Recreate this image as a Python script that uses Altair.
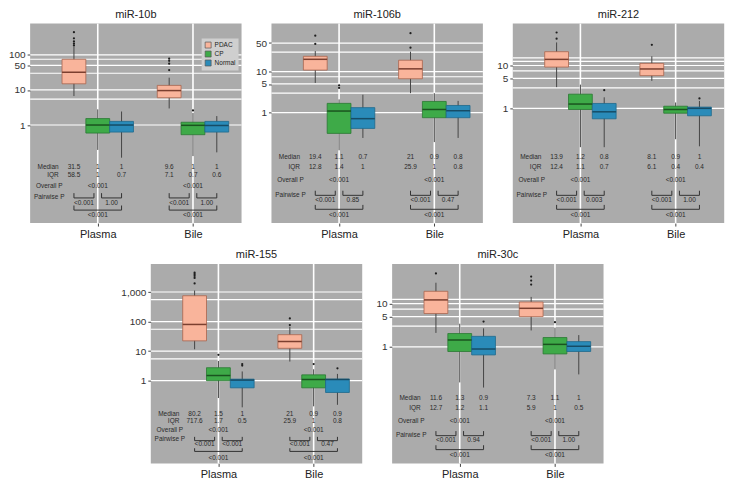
import altair as alt
import pandas as pd

GROUPS = ["PDAC", "CP", "Normal"]
SITES = ["Plasma", "Bile"]
FILL = ["#F9B49B", "#3EAA48", "#2A8BB9"]
EDGE = ["#A9644E", "#2A7832", "#1F6A8D"]
MEDC = ["#7B3F2F", "#1A531F", "#164C66"]
# box order: Plasma-PDAC, Plasma-CP, Plasma-Normal, Bile-PDAC, Bile-CP, Bile-Normal

# ---------------- miR-10b ----------------
m10b_lo = [6.7, 0.195, 0.117, 2.97, 0.13, 0.166]
m10b_q1 = [15.0, 0.59, 0.63, 6.0, 0.53, 0.63]
m10b_med = [32.0, 1.0, 1.0, 9.6, 0.98, 0.97]
m10b_q3 = [75.0, 1.53, 1.27, 13.5, 1.2, 1.27]
m10b_hi = [172.0, 2.8, 2.43, 22.4, 2.2, 1.8]
m10b_out = [[186, 210, 242, 298, 445], [], [], [37, 56, 68, 78], [2.6], []]
m10b_median_txt = ["31.5", "1", "1", "9.6", "1", "1"]
m10b_iqr_txt = ["58.5", "1", "0.7", "7.1", "0.7", "0.6"]
m10b_overall = ["<0.001", "<0.001"]
m10b_p_pdac_cp = ["<0.001", "<0.001"]
m10b_p_cp_normal = ["1.00", "1.00"]
m10b_p_pdac_normal = ["<0.001", "<0.001"]
m10b_ticks = [1, 10, 50, 100]
m10b_grid = [1, 5.5, 10, 30, 50, 75, 100]

# ---------------- miR-106b ----------------
m106b_lo = [5.3, 0.12, 0.24, 2.98, 0.19, 0.24]
m106b_q1 = [10.9, 0.31, 0.41, 6.7, 0.75, 0.75]
m106b_med = [20.0, 1.09, 0.71, 11.7, 1.19, 1.11]
m106b_q3 = [23.7, 1.68, 1.32, 19.0, 1.87, 1.49]
m106b_hi = [31.8, 2.1, 2.73, 30.7, 2.98, 1.93]
m106b_out = [[47.5, 75.7], [4.0, 4.6], [], [38.6, 87.0], [], []]
m106b_median_txt = ["19.4", "1.1", "0.7", "21", "0.9", "0.8"]
m106b_iqr_txt = ["12.8", "1.4", "1", "25.9", "1", "0.8"]
m106b_overall = ["<0.001", "<0.001"]
m106b_p_pdac_cp = ["<0.001", "<0.001"]
m106b_p_cp_normal = ["0.85", "0.47"]
m106b_p_pdac_normal = ["<0.001", "<0.001"]
m106b_ticks = [1, 5, 10, 50]
m106b_grid = [1, 3, 5, 7.5, 10, 30, 50]

# ---------------- miR-212 ----------------
m212_lo = [3.13, 0.124, 0.124, 4.37, 0.19, 0.13]
m212_q1 = [9.2, 0.94, 0.57, 5.8, 0.77, 0.67]
m212_med = [13.9, 1.26, 0.83, 8.3, 0.94, 1.0]
m212_q3 = [21.0, 2.14, 1.3, 11.2, 1.12, 1.07]
m212_hi = [34.6, 3.58, 1.81, 16.4, 1.37, 1.49]
m212_out = [[42.3, 58.9], [], [2.66], [30.4], [], [1.7]]
m212_median_txt = ["13.9", "1.2", "0.8", "8.1", "0.9", "1"]
m212_iqr_txt = ["12.4", "1.1", "0.7", "6.1", "0.4", "0.4"]
m212_overall = ["<0.001", "<0.001"]
m212_p_pdac_cp = ["<0.001", "<0.001"]
m212_p_cp_normal = ["0.003", "1.00"]
m212_p_pdac_normal = ["<0.001", "<0.001"]
m212_ticks = [1, 5, 10]
m212_grid = [1, 3, 5, 7.5, 10, 12.5, 15]

# ---------------- miR-155 ----------------
m155_lo = [11.6, 0.26, 0.126, 4.45, 0.136, 0.153]
m155_q1 = [22.3, 1.0, 0.575, 12.5, 0.575, 0.4]
m155_med = [80.0, 1.5, 1.05, 21.2, 1.1, 1.1]
m155_q3 = [748.0, 2.75, 1.13, 36.0, 1.58, 1.13]
m155_hi = [1120.0, 4.66, 2.06, 66.0, 2.44, 1.7]
m155_out = [[1950, 3000, 3500, 4000, 4500], [7.5], [3.25, 3.66], [76, 128], [3.66], [2.62]]
m155_median_txt = ["80.2", "1.5", "1", "21", "0.9", "0.9"]
m155_iqr_txt = ["717.6", "1.7", "0.5", "25.9", "1", "0.8"]
m155_overall = ["<0.001", "<0.001"]
m155_p_pdac_cp = ["<0.001", "<0.001"]
m155_p_cp_normal = ["<0.001", "0.47"]
m155_p_pdac_normal = ["<0.001", "<0.001"]
m155_ticks = [1, 10, 100, 1000]
m155_grid = [1, 5.5, 10, 55, 100, 550, 1000]

# ---------------- miR-30c ----------------
m30c_lo = [2.1, 0.15, 0.114, 2.39, 0.3, 0.23]
m30c_q1 = [5.9, 0.78, 0.65, 5.0, 0.685, 0.78]
m30c_med = [12.2, 1.44, 0.89, 7.8, 1.14, 1.03]
m30c_q3 = [19.3, 2.03, 1.75, 10.9, 1.64, 1.32]
m30c_hi = [30.5, 3.43, 2.68, 14.3, 2.77, 1.87]
m30c_out = [[50.0], [], [3.85], [27.7, 34.3, 42.4], [3.73], []]
m30c_median_txt = ["11.6", "1.3", "0.9", "7.3", "1.1", "1"]
m30c_iqr_txt = ["12.7", "1.2", "1.1", "5.9", "1", "0.5"]
m30c_overall = ["<0.001", "<0.001"]
m30c_p_pdac_cp = ["<0.001", "<0.001"]
m30c_p_cp_normal = ["0.94", "1.00"]
m30c_p_pdac_normal = ["<0.001", "<0.001"]
m30c_ticks = [1, 5, 10]
m30c_grid = [1, 3, 5, 7.5, 10, 12.5]

# ---- layout (fractions of plot height, from top) ----
ROWS_A = dict(median=0.719, iqr=0.757, overall=0.812, pairlabel=0.870, arm1=0.850, line1=0.874,
              pairval=0.897, arm2=0.912, line2=0.935, bigval=0.958)
ROWS_B = dict(median=0.753, iqr=0.785, overall=0.831, pairlabel=0.878, arm1=0.867, line1=0.886,
              pairval=0.904, arm2=0.924, line2=0.940, bigval=0.973)
ROWS_C = dict(median=0.670, iqr=0.720, overall=0.785, pairlabel=0.857, arm1=0.838, line1=0.861,
              pairval=0.884, arm2=0.909, line2=0.931, bigval=0.958)

W, H = 212, 200
FONT = "Liberation Sans"
TXT = "#2a2a2a"
BG = "#ABABAB"
ANN = 6.5


def make_panel(title, lo, q1, med, q3, hi, out, mtxt, itxt, overall, pa, pb, pc,
               domain, ticks, grid, rows, legend=False):
    recs = []
    for i in range(6):
        s, k = divmod(i, 3)
        pos = s + 1 + (k - 1) * 0.25
        recs.append(dict(grp=GROUPS[k], pos=pos, xl=pos - 0.125, xr=pos + 0.125,
                         lo=lo[i], q1=q1[i], med=med[i], q3=q3[i], hi=hi[i],
                         edge=EDGE[k], medc=MEDC[k]))
    bdf = pd.DataFrame(recs)
    odf = pd.DataFrame([dict(pos=recs[i]["pos"], v=v) for i in range(6) for v in out[i]])
    gdf = pd.DataFrame({"v": grid})
    sdf = pd.DataFrame({"pos": [1, 2]})

    xs = alt.Scale(domain=[0.29, 2.51], nice=False, zero=False)
    ys = alt.Scale(type="log", domain=domain, nice=False, zero=False)
    xa = alt.Axis(values=[1, 2], labelExpr="datum.value == 1 ? 'Plasma' : 'Bile'", title=None,
                  grid=False, domain=False, tickSize=3, labelFontSize=11, labelPadding=2,
                  labelColor="#222", tickColor="#444", labelFont=FONT)
    ya = alt.Axis(values=ticks, format=",", title=None, grid=False, domain=False, tickSize=3,
                  labelFontSize=10, labelPadding=2, labelColor="#333", tickColor="#444",
                  labelFont=FONT)

    hgrid = alt.Chart(gdf).mark_rule(color="white", strokeWidth=1.2).encode(
        y=alt.Y("v:Q", scale=ys, axis=ya))
    vgrid = alt.Chart(sdf).mark_rule(color="white", strokeWidth=1.6).encode(
        x=alt.X("pos:Q", scale=xs, axis=xa))
    whisk = alt.Chart(bdf).mark_rule(color="#454545", strokeWidth=1).encode(
        x=alt.X("pos:Q", scale=xs, axis=xa), y=alt.Y("lo:Q", scale=ys, axis=ya), y2="hi:Q")
    if legend:
        leg = alt.Legend(orient="none", legendX=W - 40, legendY=15, title=None,
                         labelFontSize=6.5, labelFont=FONT, labelColor="#222",
                         symbolType="square", symbolSize=36, fillColor="#CFCFCF",
                         padding=3, rowPadding=0, symbolStrokeColor="#555",
                         symbolStrokeWidth=0.7, labelOffset=3)
    else:
        leg = None
    box = alt.Chart(bdf).mark_bar(strokeWidth=0.8).encode(
        x=alt.X("xl:Q", scale=xs, axis=xa), x2="xr:Q",
        y=alt.Y("q1:Q", scale=ys, axis=ya), y2="q3:Q",
        fill=alt.Fill("grp:N", scale=alt.Scale(domain=GROUPS, range=FILL), legend=leg),
        stroke=alt.Stroke("edge:N", scale=None))
    medl = alt.Chart(bdf).mark_rule(strokeWidth=1.5).encode(
        x=alt.X("xl:Q", scale=xs, axis=xa), x2="xr:Q",
        y=alt.Y("med:Q", scale=ys, axis=ya), color=alt.Color("medc:N", scale=None))
    outl = alt.Chart(odf).mark_circle(size=5, color="#1e1e1e", opacity=1).encode(
        x=alt.X("pos:Q", scale=xs, axis=xa), y=alt.Y("v:Q", scale=ys, axis=ya))

    data_layer = alt.layer(hgrid, vgrid, whisk, box, medl, outl)

    # ---- annotation table (independent y scale) ----
    tv, hl, arms = [], [], []
    for s in range(2):
        g = s + 1
        for k in range(3):
            x = g + (k - 1) * 0.25
            tv.append(dict(x=x, r=rows["median"], t=mtxt[s * 3 + k]))
            tv.append(dict(x=x, r=rows["iqr"], t=itxt[s * 3 + k]))
        tv.append(dict(x=g, r=rows["overall"], t=overall[s]))
        tv.append(dict(x=g - 0.145, r=rows["pairval"], t=pa[s]))
        tv.append(dict(x=g + 0.145, r=rows["pairval"], t=pb[s]))
        tv.append(dict(x=g, r=rows["bigval"], t=pc[s]))
        for (a, b, ln, am) in [(g - 0.25, g - 0.04, "line1", "arm1"),
                               (g + 0.04, g + 0.25, "line1", "arm1"),
                               (g - 0.25, g + 0.25, "line2", "arm2")]:
            hl.append(dict(x=a, x2=b, r=rows[ln]))
            arms.append(dict(x=a, r=rows[am], r2=rows[ln]))
            arms.append(dict(x=b, r=rows[am], r2=rows[ln]))
    tdf = pd.DataFrame(tv)
    ldf_r = pd.DataFrame([dict(x=0.59, r=rows["median"], t="Median"),
                          dict(x=0.59, r=rows["iqr"], t="IQR")])
    ldf_c = pd.DataFrame([dict(x=0.49, r=rows["overall"], t="Overall P"),
                          dict(x=0.49, r=rows["pairlabel"], t="Pairwise P")])
    hdf = pd.DataFrame(hl)
    adf = pd.DataFrame(arms)

    rs = alt.Scale(domain=[0, 1], reverse=True, nice=False, zero=False)
    tvals = alt.Chart(tdf).mark_text(fontSize=ANN, font=FONT, color=TXT, align="center",
                                     baseline="middle").encode(
        x=alt.X("x:Q", scale=xs, axis=xa), y=alt.Y("r:Q", scale=rs, axis=None), text="t:N")
    tlr = alt.Chart(ldf_r).mark_text(fontSize=ANN, font=FONT, color=TXT, align="right",
                                     baseline="middle").encode(
        x=alt.X("x:Q", scale=xs, axis=xa), y=alt.Y("r:Q", scale=rs, axis=None), text="t:N")
    tlc = alt.Chart(ldf_c).mark_text(fontSize=ANN, font=FONT, color=TXT, align="center",
                                     baseline="middle").encode(
        x=alt.X("x:Q", scale=xs, axis=xa), y=alt.Y("r:Q", scale=rs, axis=None), text="t:N")
    hrule = alt.Chart(hdf).mark_rule(color="#333", strokeWidth=1).encode(
        x=alt.X("x:Q", scale=xs, axis=xa), x2="x2:Q", y=alt.Y("r:Q", scale=rs, axis=None))
    arule = alt.Chart(adf).mark_rule(color="#333", strokeWidth=1).encode(
        x=alt.X("x:Q", scale=xs, axis=xa), y=alt.Y("r:Q", scale=rs, axis=None), y2="r2:Q")
    annot = alt.layer(tvals, tlr, tlc, hrule, arule)

    return alt.layer(data_layer, annot).resolve_scale(y="independent").properties(
        width=W, height=H,
        view=alt.ViewBackground(fill=BG, stroke=None),
        title=alt.TitleParams(title, fontSize=11, fontWeight="normal", color="#222",
                              font=FONT, offset=3))


p1 = make_panel("miR-10b", m10b_lo, m10b_q1, m10b_med, m10b_q3, m10b_hi, m10b_out,
                m10b_median_txt, m10b_iqr_txt, m10b_overall, m10b_p_pdac_cp,
                m10b_p_cp_normal, m10b_p_pdac_normal, [0.0016, 780], m10b_ticks, m10b_grid,
                ROWS_A, legend=True)
p2 = make_panel("miR-106b", m106b_lo, m106b_q1, m106b_med, m106b_q3, m106b_hi, m106b_out,
                m106b_median_txt, m106b_iqr_txt, m106b_overall, m106b_p_pdac_cp,
                m106b_p_cp_normal, m106b_p_pdac_normal, [0.002, 149], m106b_ticks, m106b_grid,
                ROWS_C)
p3 = make_panel("miR-212", m212_lo, m212_q1, m212_med, m212_q3, m212_hi, m212_out,
                m212_median_txt, m212_iqr_txt, m212_overall, m212_p_pdac_cp,
                m212_p_cp_normal, m212_p_pdac_normal, [0.0021, 95], m212_ticks, m212_grid,
                ROWS_C)
p4 = make_panel("miR-155", m155_lo, m155_q1, m155_med, m155_q3, m155_hi, m155_out,
                m155_median_txt, m155_iqr_txt, m155_overall, m155_p_pdac_cp,
                m155_p_cp_normal, m155_p_pdac_normal, [0.0016, 8900], m155_ticks, m155_grid,
                ROWS_B)
p5 = make_panel("miR-30c", m30c_lo, m30c_q1, m30c_med, m30c_q3, m30c_hi, m30c_out,
                m30c_median_txt, m30c_iqr_txt, m30c_overall, m30c_p_pdac_cp,
                m30c_p_cp_normal, m30c_p_pdac_normal, [0.002, 83], m30c_ticks, m30c_grid,
                ROWS_C)

row1 = alt.hconcat(p1, p2, p3, spacing=12).resolve_scale(fill="independent").resolve_legend(
    fill="independent")
row2 = alt.hconcat(p4, p5, spacing=12).resolve_scale(fill="independent").resolve_legend(
    fill="independent")

chart = alt.vconcat(row1, row2, spacing=10, center=True).resolve_scale(
    fill="independent").resolve_legend(fill="independent").properties(
    padding=0).configure(font=FONT).configure_view(fill=BG, stroke=None)

chart.save("out.html", embed_options={"renderer": "svg", "actions": False})
